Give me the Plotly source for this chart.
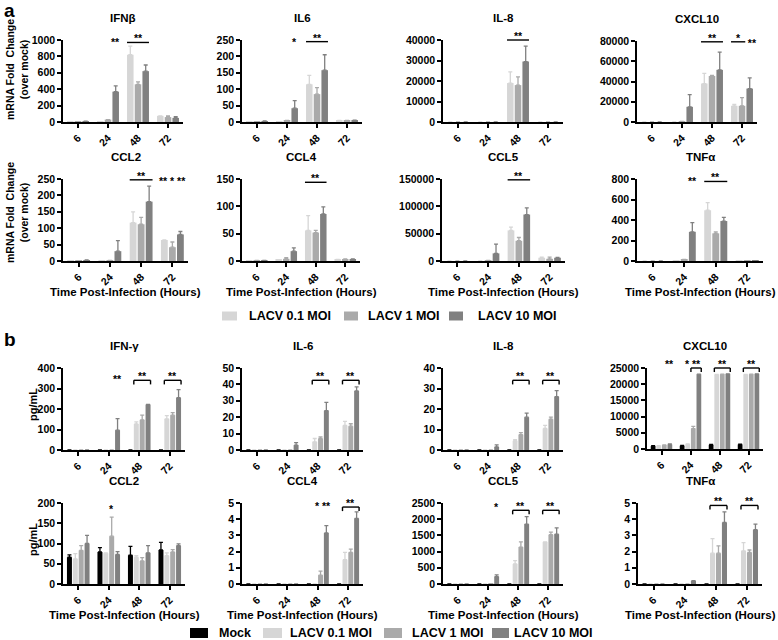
import math
import plotly.graph_objects as go

FONT = "Liberation Sans, Arial, sans-serif"
W, H = 778, 640

times = ["6", "24", "48", "72"]
a_names = ["LACV 0.1 MOI", "LACV 1 MOI", "LACV 10 MOI"]
b_names = ["Mock", "LACV 0.1 MOI", "LACV 1 MOI", "LACV 10 MOI"]
a_colors = ["#d6d6d6", "#aaaaaa", "#808080"]
b_colors = ["#000000", "#d6d6d6", "#aaaaaa", "#808080"]

# ---------------- panel a : mRNA fold change (rows = 0.1, 1, 10 MOI; cols = 6,24,48,72 h)
a_IFNb_mean = [[2, 3, 820, 75], [3, 30, 460, 60], [10, 370, 620, 50]]
a_IFNb_top = [[2, 3, 925, 75], [3, 30, 490, 75], [10, 440, 695, 65]]
a_IL6_mean = [[1, 1, 115, 5], [1, 5, 85, 4], [3, 42, 158, 5]]
a_IL6_top = [[1, 1, 142, 5], [1, 5, 105, 5], [3, 65, 205, 6]]
a_IL8_mean = [[0, 0, 19000, 0], [0, 0, 18000, 0], [0, 0, 29500, 0]]
a_IL8_top = [[0, 0, 24500, 0], [0, 0, 22000, 0], [0, 0, 37000, 0]]
a_CXCL10_mean = [[0, 0, 38000, 16000], [0, 500, 45500, 16000], [0, 15000, 51500, 33000]]
a_CXCL10_top = [[0, 0, 48000, 17500], [0, 500, 46000, 24000], [0, 27000, 69000, 43500]]
a_CCL2_mean = [[1, 0.5, 117, 64], [1, 2, 112, 42], [3, 30, 181, 81]]
a_CCL2_top = [[1, 0.5, 150, 64], [1, 2, 133, 58], [3, 62, 228, 90]]
a_CCL4_mean = [[0.5, 2, 56, 3], [1, 4, 52, 3], [1, 18, 86, 3]]
a_CCL4_top = [[0.5, 2, 83, 3], [1, 6, 56, 4], [1, 24, 99, 4]]
a_CCL5_mean = [[0, 0, 56000, 6000], [0, 1000, 37000, 4000], [0, 14000, 85000, 6000]]
a_CCL5_top = [[0, 0, 62000, 7000], [0, 1000, 43000, 7000], [0, 31000, 97000, 6500]]
a_TNFa_mean = [[0, 2, 495, 2], [0, 12, 270, 3], [0, 285, 390, 4]]
a_TNFa_top = [[0, 2, 570, 2], [0, 15, 285, 3], [0, 375, 425, 4]]

# ---------------- panel b : protein pg/mL (rows = Mock, 0.1, 1, 10 MOI)
b_IFNg_mean = [[0, 0, 0, 0], [0, 0, 127, 152], [0, 0, 147, 170], [0, 97, 222, 255]]
b_IFNg_top = [[0, 0, 0, 0], [0, 0, 137, 168], [0, 0, 170, 182], [0, 153, 222, 295]]
b_IL6_mean = [[0, 0, 0, 0], [0, 0, 5, 15], [0, 0, 7, 14.5], [0, 3, 24, 36]]
b_IL6_top = [[0, 0, 0, 0], [0, 0, 7, 17.5], [0, 0, 8, 16], [0, 4.5, 29, 38.5]]
b_IL8_mean = [[0, 0, 0, 0], [0, 0, 4.5, 10.5], [0, 0, 7.5, 15], [0, 1.5, 16, 26]]
b_IL8_top = [[0, 0, 0, 0], [0, 0, 5, 12], [0, 0, 8.5, 16], [0, 2.5, 18, 29]]
b_CXCL10_mean = [[900, 1000, 1300, 1400], [1000, 1500, 23000, 23000], [1200, 6300, 23100, 23100], [1400, 23100, 23200, 23200]]
b_CXCL10_top = [[1000, 1100, 1400, 1500], [1000, 1600, 23000, 23000], [1300, 7000, 23100, 23100], [1600, 23100, 23200, 23200]]
b_CCL2_mean = [[66, 79, 71, 84], [62, 76, 66, 70], [83, 118, 57, 79], [100, 73, 77, 95]]
b_CCL2_top = [[72, 90, 93, 103], [75, 77, 70, 77], [95, 165, 65, 85], [120, 80, 95, 99]]
b_CCL4_mean = [[0, 0, 0, 0], [0, 0, 0, 1.5], [0, 0, 0.55, 1.95], [0, 0, 3.15, 4.05]]
b_CCL4_top = [[0, 0, 0, 0], [0, 0, 0, 1.95], [0, 0, 0.8, 2.15], [0, 0, 3.6, 4.45]]
b_CCL5_mean = [[0, 0, 0, 0], [0, 0, 620, 1300], [0, 10, 1140, 1520], [0, 230, 1850, 1540]]
b_CCL5_top = [[0, 0, 0, 0], [0, 0, 720, 1300], [0, 10, 1300, 1600], [0, 280, 2080, 1730]]
b_TNFa_mean = [[0, 0, 0, 0], [0, 0, 1.9, 2.05], [0, 0, 1.9, 1.95], [0, 0.2, 3.8, 3.35]]
b_TNFa_top = [[0, 0, 0, 0], [0, 0, 2.8, 2.55], [0, 0, 2.35, 2.1], [0, 0.2, 4.45, 3.7]]

# significance marks: (kind, time index, from series, to series, label, level as fraction of axis height)
a_IFNb_sig = [("star", 1, 2, 2, "**", 1.0), ("line", 2, 0, 2, "**", 0.97)]
a_IL6_sig = [("star", 1, 2, 2, "*", 1.0), ("line", 2, 0, 2, "**", 0.98)]
a_IL8_sig = [("line", 2, 0, 2, "**", 1.0)]
a_CXCL10_sig = [("line", 2, 0, 2, "**", 0.99), ("line", 3, 0, 1, "*", 0.99), ("star", 3, 2, 2, "  **", 1.0)]
a_CCL2_sig = [("line", 2, 0, 2, "**", 0.99), ("star", 3, 0, 2, "** * **", 1.0)]
a_CCL4_sig = [("line", 2, 0, 2, "**", 0.96)]
a_CCL5_sig = [("line", 2, 0, 2, "**", 0.99)]
a_TNFa_sig = [("star", 1, 2, 2, "**", 1.0), ("line", 2, 0, 2, "**", 0.97)]

b_IFNg_sig = [("star", 1, 3, 3, "**", 0.89), ("bracket", 2, 1, 3, "**", 0.85), ("bracket", 3, 1, 3, "**", 0.85)]
b_IL6_sig = [("bracket", 2, 1, 3, "**", 0.85), ("bracket", 3, 1, 3, "**", 0.85)]
b_IL8_sig = [("bracket", 2, 1, 3, "**", 0.85), ("bracket", 3, 1, 3, "**", 0.85)]
b_CXCL10_sig = [("star", 0, 3, 3, "**", 1.07), ("star", 1, 1, 1, "*", 1.07), ("bracket", 1, 2, 3, "**", 1.0),
                ("bracket", 2, 1, 3, "**", 1.0), ("bracket", 3, 1, 3, "**", 1.0)]
b_CCL2_sig = [("star", 1, 2, 2, "*", 0.95)]
b_CCL4_sig = [("star", 2, 2, 3, "* **", 0.99), ("bracket", 3, 1, 3, "**", 0.95)]
b_CCL5_sig = [("star", 1, 3, 3, "*", 0.97), ("bracket", 2, 1, 3, "**", 0.91), ("bracket", 3, 1, 3, "**", 0.91)]
b_TNFa_sig = [("bracket", 2, 1, 3, "**", 0.97), ("bracket", 3, 1, 3, "**", 0.97)]

a_panels = [
    ("IFNβ", a_IFNb_mean, a_IFNb_top, 1000, 200, a_IFNb_sig),
    ("IL6", a_IL6_mean, a_IL6_top, 250, 50, a_IL6_sig),
    ("IL-8", a_IL8_mean, a_IL8_top, 40000, 10000, a_IL8_sig),
    ("CXCL10", a_CXCL10_mean, a_CXCL10_top, 80000, 20000, a_CXCL10_sig),
    ("CCL2", a_CCL2_mean, a_CCL2_top, 250, 50, a_CCL2_sig),
    ("CCL4", a_CCL4_mean, a_CCL4_top, 150, 50, a_CCL4_sig),
    ("CCL5", a_CCL5_mean, a_CCL5_top, 150000, 50000, a_CCL5_sig),
    ("TNFα", a_TNFa_mean, a_TNFa_top, 800, 200, a_TNFa_sig),
]
b_panels = [
    ("IFN-γ", b_IFNg_mean, b_IFNg_top, 400, 100, b_IFNg_sig),
    ("IL-6", b_IL6_mean, b_IL6_top, 50, 10, b_IL6_sig),
    ("IL-8", b_IL8_mean, b_IL8_top, 40, 10, b_IL8_sig),
    ("CXCL10", b_CXCL10_mean, b_CXCL10_top, 25000, 5000, b_CXCL10_sig),
    ("CCL2", b_CCL2_mean, b_CCL2_top, 200, 50, b_CCL2_sig),
    ("CCL4", b_CCL4_mean, b_CCL4_top, 5, 1, b_CCL4_sig),
    ("CCL5", b_CCL5_mean, b_CCL5_top, 2500, 500, b_CCL5_sig),
    ("TNFα", b_TNFa_mean, b_TNFa_top, 5, 1, b_TNFa_sig),
]

# plot-area boxes in pixels: (left, right, top, bottom)
a_boxes = [(63, 183, 40, 122), (242, 362, 40, 122), (443, 563, 40, 122), (637, 757, 41, 122),
           (63, 188, 179, 261), (242, 360, 179, 261), (442, 565, 179, 261), (637, 763, 179, 261)]
b_boxes = [(63, 185, 368, 450), (242, 363, 368, 450), (443, 563, 368, 450), (647, 763, 368, 449),
           (63, 185, 503, 584), (242, 363, 503, 584), (443, 563, 503, 584), (638, 762, 503, 584)]
# legend swatch boxes in pixels: (left, right, center y) and label start x
a_legend_swatch = [(222, 237, 316), (344, 358, 316), (449, 463, 316)]
a_legend_text_x = [247, 366, 476]
b_legend_swatch = [(190, 208, 633), (263, 282, 633), (384, 402, 633), (492, 509, 633)]
b_legend_text_x = [217, 288, 410, 512]

BARGAP, GROUPGAP = 0.23, 0.15
tick_font = dict(family=FONT, size=10.5, color="black", weight="bold")

fig = go.Figure()
layout = {}
shapes = []
annotations = []


def txt(x, y, text, size, xref="paper", yref="paper", **kw):
    d = dict(x=x, y=y, xref=xref, yref=yref, text=text, showarrow=False,
             xanchor="center", yanchor="middle",
             font=dict(family=FONT, size=size, color="black", weight="bold"))
    d.update(kw)
    annotations.append(d)


def add_panel(k, title, means, tops, ymax, dtick, sig, names, colors, box, xtitle):
    xa = "x" if k == 1 else f"x{k}"
    ya = "y" if k == 1 else f"y{k}"
    yd = f"{ya} domain"
    left, right, top, bottom = box
    for i, (nm, col) in enumerate(zip(names, colors)):
        err = [(t - m) if (t - m) > 0 else math.nan for m, t in zip(means[i], tops[i])]
        fig.add_trace(go.Bar(
            x=times, y=means[i], name=nm, xaxis=xa, yaxis=ya,
            marker=dict(color=col, line=dict(width=0)),
            error_y=dict(type="data", symmetric=False, array=err, arrayminus=[0] * len(err),
                         color=col, thickness=1.3, width=2),
            showlegend=False,
        ))
    axis_common = dict(showline=True, linecolor="black", linewidth=1.5, ticks="outside", ticklen=4,
                       tickwidth=1.5, tickcolor="black", showgrid=False, zeroline=False,
                       tickfont=tick_font, automargin=False)
    layout["xaxis" if k == 1 else f"xaxis{k}"] = dict(
        domain=[left / W, right / W], anchor=ya, type="category", categoryorder="array",
        categoryarray=times, range=[-0.5, 3.5], tickangle=-45, **axis_common)
    layout["yaxis" if k == 1 else f"yaxis{k}"] = dict(
        domain=[1 - bottom / H, 1 - top / H], anchor=xa, range=[0, ymax], tick0=0, dtick=dtick,
        exponentformat="none", separatethousands=False, tickformat="d", **axis_common)
    # subplot title
    txt((left + right) / 2 / W, 1 - (top - 22) / H, title, 11.5)
    if xtitle:
        txt((left + right) / 2 / W, 1 - (bottom + 31) / H, "Time Post-Infection (Hours)", 11.5)
    # significance marks (y given as a fraction of the axis height)
    n = len(names)
    gw = 1 - BARGAP
    slot = gw / n
    bw = slot * (1 - GROUPGAP)
    for kind, t, s0, s1, label, frac in sig:
        c0 = t - gw / 2 + slot * (s0 + 0.5)
        c1 = t - gw / 2 + slot * (s1 + 0.5)
        if kind == "star":
            txt((c0 + c1) / 2, frac, label, 10.5, xref=xa, yref=yd, yshift=-2)
            continue
        x0, x1 = c0 - bw / 2, c1 + bw / 2
        line = dict(color="black", width=1.4)
        shapes.append(dict(type="line", xref=xa, yref=yd, x0=x0, x1=x1, y0=frac, y1=frac, line=line))
        if kind == "bracket":
            d = 0.05
            shapes.append(dict(type="line", xref=xa, yref=yd, x0=x0, x1=x0, y0=frac, y1=frac - d, line=line))
            shapes.append(dict(type="line", xref=xa, yref=yd, x0=x1, x1=x1, y0=frac, y1=frac - d, line=line))
        txt((x0 + x1) / 2, frac, label, 10.5, xref=xa, yref=yd, yanchor="bottom", yshift=-4)


for j, (p, box) in enumerate(zip(a_panels, a_boxes)):
    add_panel(j + 1, *p, a_names, a_colors, box, xtitle=(j >= 4))
for j, (p, box) in enumerate(zip(b_panels, b_boxes)):
    add_panel(j + 9, *p, b_names, b_colors, box, xtitle=(j >= 4))


def add_legend(names, colors, swatches, text_x, half_h):
    for nm, col, (x0, x1, yc), tx in zip(names, colors, swatches, text_x):
        shapes.append(dict(type="rect", xref="paper", yref="paper", x0=x0 / W, x1=x1 / W,
                           y0=1 - (yc + half_h) / H, y1=1 - (yc - half_h) / H,
                           fillcolor=col, line=dict(width=0)))
        txt(tx / W, 1 - yc / H, nm, 12.5, xanchor="left")


add_legend(a_names, a_colors, a_legend_swatch, a_legend_text_x, 4.5)
add_legend(b_names, b_colors, b_legend_swatch, b_legend_text_x, 5)

# y-axis titles and panel letters
txt(17 / W, 1 - 70 / H, "mRNA Fold  Change<br>(over mock)", 10.5, textangle=-90)
txt(17 / W, 1 - 213 / H, "mRNA Fold  Change<br>(over mock)", 10.5, textangle=-90)
txt(33 / W, 1 - 405 / H, "pg/mL", 11, textangle=-90)
txt(33 / W, 1 - 540 / H, "pg/mL", 11, textangle=-90)
txt(2 / W, 1, "a", 19, xanchor="left", yanchor="top", yshift=2)
txt(2 / W, 1 - 327 / H, "b", 19, xanchor="left", yanchor="top")

fig.update_layout(
    width=W, height=H, margin=dict(l=0, r=0, t=0, b=0, autoexpand=False),
    paper_bgcolor="white", plot_bgcolor="white", showlegend=False,
    barmode="group", bargap=BARGAP, bargroupgap=GROUPGAP,
    shapes=shapes, annotations=annotations,
    **layout,
)

fig.write_html("out.html", config={"displayModeBar": False},
               post_script="document.body.style.margin='0';")
